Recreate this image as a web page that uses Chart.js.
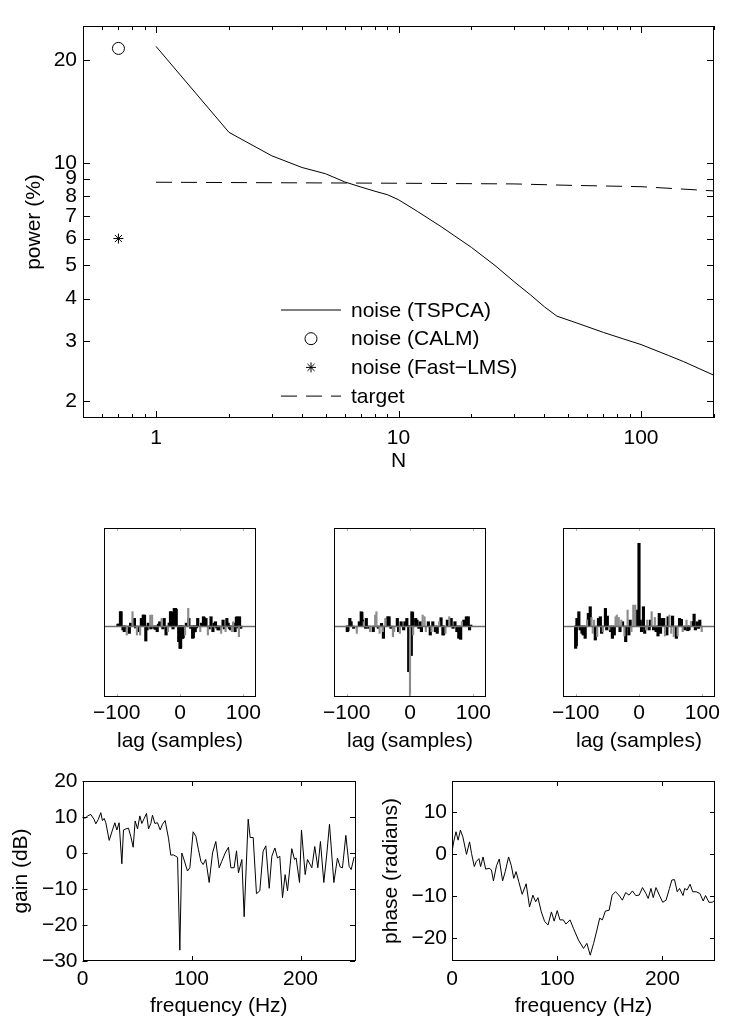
<!DOCTYPE html>
<html>
<head>
<meta charset="utf-8">
<script src="https://cdn.jsdelivr.net/npm/chart.js@4.4.0/dist/chart.umd.min.js"></script>
<style>
    html, body { margin: 0; padding: 0; background: #fff; }
    #fig { position: relative; width: 750px; height: 1029px; overflow: hidden; }
    #fig canvas { position: absolute; }
</style>
</head>
<body>
<div id="fig"></div>
<script>
// ---- top panel: residual noise power vs N ----
const tspcaN = [1, 2, 3, 4, 5, 6, 7, 8, 9, 10, 12, 15, 20, 25, 30, 35, 40, 45, 55, 70, 85, 100, 130, 150, 200];
const tspcaPower = [22.0, 12.3, 10.5, 9.7, 9.3, 8.8, 8.5, 8.26, 8.07, 7.8, 7.2, 6.5, 5.65, 5.0, 4.48, 4.1, 3.78, 3.55, 3.38, 3.18, 3.04, 2.93, 2.72, 2.61, 2.38];
const calmN = [0.7];
const calmPower = [21.7];
const fastLmsN = [0.7];
const fastLmsPower = [6.0];
const targetN = [1, 10, 30, 50, 100, 200];
const targetPower = [8.78, 8.72, 8.68, 8.6, 8.52, 8.28];
const nTicks = [1, 10, 100];
const nMinorTicks = [0.5, 0.6, 0.7, 0.8, 0.9, 2, 3, 4, 5, 6, 7, 8, 9, 20, 30, 40, 50, 60, 70, 80, 90, 200];
const powerTicks = [2, 3, 4, 5, 6, 7, 8, 9, 10, 20];

// ---- middle row: cross-correlation bars ----
const lagTicks = [-100, 0, 100];
const xc1BlackLag = [-98, -96, -94, -93, -90, -88, -86, -80, -78, -73, -72, -70, -65, -61, -58, -57, -56, -54, -52, -50, -46, -41, -39, -36, -34, -32, -27, -25, -22, -17, -15, -14, -13, -11, -9, -8, -7, -6, -2, -1, 0, 1, 3, 4, 5, 10, 14, 17, 20, 21, 23, 24, 26, 28, 34, 37, 38, 41, 46, 49, 52, 54, 56, 58, 60, 62, 68, 70, 74, 76, 78, 79, 80, 85, 87, 89, 90, 92, 94, 96];
const xc1BlackVal = [0.02, 0.02, 0.146, 0.146, -0.04, -0.058, -0.03, -0.075, 0.03, 0.078, 0.078, -0.02, -0.058, 0.078, 0.112, 0.112, 0.11, -0.153, -0.04, 0.03, -0.03, -0.024, -0.035, -0.058, 0.02, 0.044, -0.03, 0.078, -0.092, 0.03, 0.146, 0.146, 0.14, -0.03, 0.18, 0.18, 0.18, 0.17, -0.16, -0.16, -0.228, -0.228, -0.13, -0.126, -0.12, 0.03, 0.078, -0.024, -0.126, -0.12, -0.06, -0.058, -0.02, 0.078, 0.03, 0.095, 0.09, 0.078, -0.03, 0.095, -0.058, 0.03, 0.044, -0.02, -0.04, -0.04, 0.061, -0.03, 0.078, 0.03, -0.024, -0.03, -0.04, 0.03, -0.058, 0.09, 0.095, -0.02, 0.095, -0.024];
const xc1GrayLag = [-84, -75, -68, -63, -47, -44, -29, -19, 8, 13, 32, 44, 65, 72, 82, 84, 93];
const xc1GrayVal = [-0.092, 0.146, -0.092, -0.092, 0.112, 0.112, 0.078, -0.058, -0.092, 0.18, -0.058, -0.092, -0.075, -0.058, -0.058, 0.044, -0.109];

const xc2BlackLag = [-99, -98, -95, -93, -89, -80, -77, -76, -75, -70, -69, -65, -58, -50, -45, -42, -35, -33, -30, -20, -18, -14, -10, -8, -5, -2, -1, 1, 2, 3, 4, 9, 11, 14, 16, 18, 29, 32, 36, 40, 43, 49, 52, 53, 59, 65, 68, 71, 74, 77, 80, 85, 89, 92, 94, 96];
const xc2BlackVal = [-0.058, -0.05, 0.078, 0.044, -0.024, 0.044, 0.146, 0.14, 0.061, -0.024, 0.078, -0.024, -0.058, -0.024, 0.027, -0.126, 0.095, 0.095, -0.024, 0.078, -0.058, 0.044, -0.04, 0.044, 0.078, -0.466, -0.466, -0.30, -0.30, 0.146, 0.14, 0.078, 0.061, -0.024, 0.044, -0.058, 0.044, -0.092, 0.044, -0.058, -0.075, 0.085, -0.092, -0.09, 0.061, 0.078, -0.024, 0.044, -0.058, -0.126, -0.136, 0.061, 0.095, 0.095, -0.04, 0.01];
const xc2GrayLag = [-84, -73, -63, -55, -53, -48, -43, -39, -27, -25, -16, 0, 5, 20, 23, 25, 34, 46, 56, 62, 82];
const xc2GrayVal = [-0.075, 0.044, -0.058, 0.112, 0.146, -0.075, -0.058, 0.078, -0.109, -0.058, -0.075, -1.0, -0.092, 0.112, 0.095, -0.058, -0.058, 0.044, -0.075, 0.095, 0.044];

const xc3BlackLag = [-100, -99, -98, -95, -93, -90, -88, -85, -80, -77, -69, -64, -61, -59, -53, -51, -50, -45, -42, -39, -30, -26, -21, -16, -14, -4, -3, 0, 2, 4, 7, 9, 16, 18, 23, 27, 30, 32, 34, 36, 39, 44, 46, 53, 59, 64, 67, 72, 77, 79, 84, 87, 89, 92, 94, 96];
const xc3BlackVal = [-0.228, -0.2, 0.078, 0.146, -0.04, -0.075, -0.092, -0.126, 0.129, 0.197, -0.143, 0.078, 0.095, -0.075, 0.18, -0.04, 0.102, -0.058, -0.126, -0.092, -0.058, 0.044, -0.16, -0.092, 0.061, 0.163, 0.16, 0.844, 0.061, -0.058, 0.197, -0.075, -0.04, 0.061, -0.04, -0.058, -0.102, 0.129, -0.075, 0.078, 0.078, -0.092, 0.095, 0.102, -0.126, 0.078, 0.068, -0.04, -0.048, -0.04, 0.044, 0.122, -0.04, 0.044, -0.024, 0.061];
const xc3GrayLag = [-82, -75, -73, -71, -66, -57, -47, -37, -35, -32, -28, -23, -18, -12, -9, -6, 11, 13, 20, 25, 41, 48, 51, 55, 61, 69, 75, 82, 99];
const xc3GrayVal = [0.061, 0.088, -0.075, 0.061, -0.109, -0.058, -0.04, 0.095, 0.112, 0.088, 0.061, -0.102, 0.163, -0.058, 0.214, 0.214, -0.04, 0.061, 0.146, 0.088, -0.102, 0.112, -0.075, -0.109, -0.102, -0.058, 0.061, 0.044, -0.058];

// ---- bottom row: filter gain and phase ----
const freqTicks = [0, 100, 200];
const gainTicks = [-30, -20, -10, 0, 10, 20];
const phaseTicks = [-20, -10, 0, 10];
const gainFreq = [0, 2.4, 4.6, 7.6, 10.7, 12.2, 14.4, 16.8, 18.3, 19.9, 21.4, 24.5, 27.5, 29.7, 31.5, 33.6, 36.1, 37.6, 39.8, 42.2, 44.3, 46.5, 48.3, 50.5, 52.6, 54.4, 56.6, 58.7, 60.6, 62.7, 64.2, 66.4, 68.8, 71.3, 73.4, 75.8, 78.9, 81, 83.2, 85.6, 87.2, 89.3, 91.1, 93.3, 96.3, 98.5, 101.5, 104, 106.4, 108.6, 110.7, 113.1, 116.2, 119.3, 122.3, 125.4, 127.8, 130.9, 133.9, 136.1, 139.1, 141.3, 143.1, 146.2, 148.3, 152, 153.8, 156.6, 159.6, 162.7, 165.7, 168.2, 171.3, 173.7, 176.5, 178.9, 181, 183.5, 185.9, 188.1, 192, 194.5, 196, 199.1, 200.9, 204.3, 206.4, 210.4, 213.1, 215.9, 218.3, 221.4, 224.2, 226.6, 230.6, 233.9, 236.4, 238.5, 241.6, 244.6, 246.5, 249.2];
const gainDb = [10.3, 9.6, 10.3, 10.7, 9.3, 8.1, 9.3, 11.2, 9, 9.6, 8.4, 3.5, 6.4, 8.4, 6.4, 8.4, -3.0, 6.4, 6.7, 6.9, 4.6, 1.6, 8.9, 6.7, 10.3, 8.2, 9.6, 11, 6.7, 8.2, 10.5, 8.2, 8.4, 6.4, 8, 9, 4.1, -0.6, -0.5, -0.9, -1.2, -27, 0, -2, -5, -4.1, 5.9, 4.6, 0.9, -2.3, -3.2, -1.8, -8.2, 0, 3.2, -4.1, -2.3, 0, 1.6, -4.1, -4.1, 0.6, -5.5, -1.8, -17.7, 9.4, 4.3, 4.3, -11.3, -10.5, 0.5, 2, -9.8, -0.9, 1.4, -1.4, -0.9, -12.4, -6, -10.5, 1.2, -1.8, -1.4, -8.2, 6.4, -6, -1.8, -4.1, 1.8, -4.1, 3.2, -8.2, 0, 8, -8.2, -1.4, -3.9, -4.1, 4.9, -3.7, -4.6, -1.1];
const phaseFreq = [0, 1.6, 3.8, 5.8, 8, 10.3, 13.8, 16.7, 18.6, 21.2, 23.1, 25.6, 27.2, 29.5, 32, 35.3, 37.5, 39.4, 42.3, 44.9, 48.1, 50.6, 53.8, 56.4, 58.7, 60.9, 63.5, 66.7, 70.5, 73.7, 76.9, 79.5, 81.7, 84.9, 88.1, 91.3, 94.5, 97.1, 100, 102.6, 105.8, 108.3, 112.2, 115.4, 120.2, 125, 128.2, 131.4, 134.6, 137.8, 140.4, 142.9, 145.8, 149.4, 152.2, 155.4, 158.7, 161.9, 165.1, 168.3, 171.5, 174.7, 177.9, 181.1, 184.3, 186.5, 189.1, 191.3, 193.9, 197.1, 200.3, 203.5, 206.7, 209, 211.5, 214.1, 216.3, 219.6, 221.2, 223.4, 226.3, 228.8, 232.1, 235.6, 238.8, 241, 244.2, 247.4, 250];
const phaseRad = [0.6, 3.0, 5.4, 3.4, 5.8, 4.2, 0, 3.0, 0.2, -2.9, -1.7, -1.0, -2.9, -0.6, -3.5, -3.3, -3.7, -6.3, -2.7, -1.1, -6.3, -4.1, -0.6, -2.7, -5.7, -4.1, -6.5, -9.5, -7.0, -12.5, -9.7, -11.3, -10.3, -13.7, -16, -16.8, -13.7, -15.9, -13.4, -15.6, -15.6, -16.6, -15.6, -17.6, -20.4, -22.4, -21.2, -24, -21.2, -18, -15.2, -15.6, -13.5, -13.3, -9.7, -8.9, -9.7, -10.9, -9.1, -9.7, -8.7, -9.8, -9.7, -7.9, -9.3, -10.5, -8.1, -10.3, -7.9, -9.7, -11.4, -10.9, -8.1, -6.1, -6.0, -8.9, -8.1, -9.8, -8.1, -8.5, -7.1, -8.9, -8.9, -9.3, -11.1, -9.8, -11.4, -11.4, -10.9];

const FONT = '"Liberation Sans", Arial, Helvetica, sans-serif';
const FS = 21;
Chart.defaults.font.family = FONT;
Chart.defaults.font.size = FS;
Chart.defaults.color = '#000';
Chart.defaults.animation = false;

const minus = v => String(v).replace('-', '\u2212');
const pts = (xs, ys) => xs.map((x, i) => ({ x: x, y: ys[i] }));
const fixTicks = vals => s => { s.ticks = vals.map(v => ({ value: v })); };

// matlab-ish axes box: frame on all four sides, ticks pointing inward, optional zero line
const boxTicks = {
    id: 'boxTicks',
    afterDatasetsDraw(chart, args, o) {
        const { ctx, chartArea: a } = chart;
        const x = chart.scales.x, y = chart.scales.y;
        ctx.save();
        ctx.setLineDash([]);
        if (o.zero) {
            const py = Math.round(y.getPixelForValue(0)) + 0.5;
            ctx.strokeStyle = o.zero;
            ctx.lineWidth = 1.5;
            ctx.beginPath(); ctx.moveTo(a.left, py); ctx.lineTo(a.right, py); ctx.stroke();
        }
        ctx.lineWidth = 1;
        ctx.strokeStyle = o.tickColor || '#000';
        ctx.beginPath();
        const seg = (x0, y0, x1, y1) => { ctx.moveTo(x0, y0); ctx.lineTo(x1, y1); };
        const xt = (vals, len) => vals.forEach(v => {
            const p = Math.round(x.getPixelForValue(v)) + 0.5;
            seg(p, a.bottom, p, a.bottom - len); seg(p, a.top, p, a.top + len);
        });
        const yt = (vals, len) => vals.forEach(v => {
            const p = Math.round(y.getPixelForValue(v)) + 0.5;
            seg(a.left, p, a.left + len, p); seg(a.right, p, a.right - len, p);
        });
        xt(x.ticks.map(t => t.value), o.len || 6);
        xt(o.xMinor || [], o.minorLen || 3);
        if (y.options.display !== false) yt(y.ticks.map(t => t.value), o.len || 6);
        ctx.stroke();
        ctx.strokeStyle = '#000';
        ctx.strokeRect(Math.round(a.left) + 0.5, Math.round(a.top) + 0.5, Math.round(a.width) - 1, Math.round(a.height) - 1);
        ctx.restore();
    }
};

// legend drawn inside the plot area, like the original
const inLegend = {
    id: 'inLegend',
    afterDraw(chart, args, o) {
        if (!o || o.x == null) return;
        const ctx = chart.ctx;
        ctx.save();
        ctx.font = FS + 'px ' + FONT;
        ctx.textBaseline = 'middle';
        ctx.fillStyle = '#000';
        chart.data.datasets.forEach((ds, i) => {
            const y = o.y + i * o.dy;
            ctx.strokeStyle = ds.borderColor;
            ctx.lineWidth = 1;
            if (ds.showLine !== false) {
                ctx.setLineDash(ds.borderDash || []);
                ctx.beginPath(); ctx.moveTo(o.x, y); ctx.lineTo(o.x + o.len, y); ctx.stroke();
                ctx.setLineDash([]);
            } else {
                ctx.fillStyle = 'rgba(0,0,0,0)';
                Chart.helpers.drawPoint(ctx, { pointStyle: ds.pointStyle, radius: ds.pointRadius, rotation: 0, borderWidth: 1 }, o.x + o.len / 2, y);
                ctx.fillStyle = '#000';
            }
            ctx.fillText(ds.label, o.x + o.len + o.gap, y + 1);
        });
        ctx.restore();
    }
};

Chart.register(boxTicks, inLegend);

const fig = document.getElementById('fig');

// place a canvas so that its chart area lands exactly on `area`
function panel(box, area, cfg) {
    const c = document.createElement('canvas');
    c.width = box.w; c.height = box.h;
    c.style.left = box.l + 'px'; c.style.top = box.t + 'px';
    fig.appendChild(c);
    const o = cfg.options, sx = o.scales.x, sy = o.scales.y;
    const yw = area.l - box.l, xh = box.t + box.h - area.b;
    o.responsive = false;
    o.layout = { padding: { left: sy.display === false ? yw : 0, top: area.t - box.t, right: box.l + box.w - area.r, bottom: 0 } };
    sy.afterFit = s => { s.width = yw; };
    sx.afterFit = s => { s.height = xh; };
    return new Chart(c, cfg);
}

const noGrid = { grid: { display: false, drawTicks: false }, border: { display: false } };

// top: power vs N
panel({ l: 0, t: 0, w: 750, h: 480 }, { l: 83, t: 26, r: 714, b: 418 }, {
    type: 'line',
    data: {
        datasets: [
            { label: 'noise (TSPCA)', data: pts(tspcaN, tspcaPower), borderColor: '#000', borderWidth: 1, pointRadius: 0, tension: 0 },
            { label: 'noise (CALM)', data: pts(calmN, calmPower), showLine: false, pointStyle: 'circle', pointRadius: 6, borderColor: '#000', backgroundColor: 'rgba(0,0,0,0)', pointBorderWidth: 1 },
            { label: 'noise (Fast\u2212LMS)', data: pts(fastLmsN, fastLmsPower), showLine: false, pointStyle: 'star', pointRadius: 5, borderColor: '#000', backgroundColor: 'rgba(0,0,0,0)', pointBorderWidth: 1 },
            { label: 'target', data: pts(targetN, targetPower), borderColor: '#000', borderWidth: 1, borderDash: [16, 9], pointRadius: 0 },
        ],
    },
    options: {
        plugins: {
            legend: { display: false },
            tooltip: { enabled: false },
            boxTicks: { len: 7, minorLen: 4, xMinor: nMinorTicks },
            inLegend: { x: 281, y: 310, dy: 28.7, len: 60, gap: 10 },
        },
        scales: {
            x: {
                type: 'logarithmic', min: 0.5, max: 200, ...noGrid,
                afterBuildTicks: fixTicks(nTicks),
                ticks: { padding: 8, maxRotation: 0, callback: v => String(v) },
                title: { display: true, text: 'N', padding: { top: 0, bottom: 6 } },
            },
            y: {
                type: 'logarithmic', min: 1.783, max: 25.25, ...noGrid,
                afterBuildTicks: fixTicks(powerTicks),
                ticks: { padding: 6, callback: v => String(v) },
                title: { display: true, text: 'power (%)', padding: { top: 22, bottom: 0 } },
            },
        },
    },
});

// middle: three lag panels
function lagPanel(area, blackLag, blackVal, grayLag, grayVal) {
    return panel({ l: area.l - 22, t: 500, w: area.r - area.l + 44, h: 254 }, area, {
        type: 'bar',
        data: {
            datasets: [
                { data: pts(grayLag, grayVal), backgroundColor: '#8c8c8c', barThickness: 1.5, grouped: false },
                { data: pts(blackLag, blackVal), backgroundColor: '#000', barThickness: 2.5, grouped: false },
            ],
        },
        options: {
            plugins: {
                legend: { display: false },
                tooltip: { enabled: false },
                boxTicks: { zero: '#6e6e6e', len: 3, tickColor: '#aaa' },
            },
            scales: {
                x: {
                    type: 'linear', min: -120, max: 120, offset: false, ...noGrid,
                    afterBuildTicks: fixTicks(lagTicks),
                    ticks: { padding: 4, maxRotation: 0, callback: minus },
                    title: { display: true, text: 'lag (samples)', padding: { top: 0, bottom: 0 } },
                },
                y: { display: false, min: -0.724, max: 1 },
            },
        },
    });
}

lagPanel({ l: 82, t: 528, r: 256, b: 697 }, xc1BlackLag, xc1BlackVal, xc1GrayLag, xc1GrayVal);
lagPanel({ l: 312, t: 528, r: 486, b: 697 }, xc2BlackLag, xc2BlackVal, xc2GrayLag, xc2GrayVal);
lagPanel({ l: 541, t: 528, r: 715, b: 697 }, xc3BlackLag, xc3BlackVal, xc3GrayLag, xc3GrayVal);

// bottom: gain and phase vs frequency
function freqPanel(box, area, freq, vals, yMin, yMax, yTicks, yTitle) {
    return panel(box, area, {
        type: 'line',
        data: { datasets: [{ data: pts(freq, vals), borderColor: '#000', borderWidth: 1, pointRadius: 0, tension: 0 }] },
        options: {
            plugins: { legend: { display: false }, tooltip: { enabled: false }, boxTicks: { len: 5 } },
            scales: {
                x: {
                    type: 'linear', min: 0, max: 250, ...noGrid,
                    afterBuildTicks: fixTicks(freqTicks),
                    ticks: { padding: 6, maxRotation: 0, callback: minus },
                    title: { display: true, text: 'frequency (Hz)', padding: { top: 0, bottom: 10 } },
                },
                y: {
                    type: 'linear', min: yMin, max: yMax, ...noGrid,
                    afterBuildTicks: fixTicks(yTicks),
                    ticks: { padding: 5, callback: minus },
                    title: { display: true, text: yTitle, padding: { top: 9, bottom: 0 } },
                },
            },
        },
    });
}

freqPanel({ l: 0, t: 760, w: 380, h: 269 }, { l: 82.5, t: 781, r: 355, b: 961 }, gainFreq, gainDb, -30, 20, gainTicks, 'gain (dB)');
freqPanel({ l: 370, t: 760, w: 380, h: 269 }, { l: 452, t: 781, r: 715, b: 961 }, phaseFreq, phaseRad, -25.4, 17.5, phaseTicks, 'phase (radians)');
</script>
</body>
</html>
